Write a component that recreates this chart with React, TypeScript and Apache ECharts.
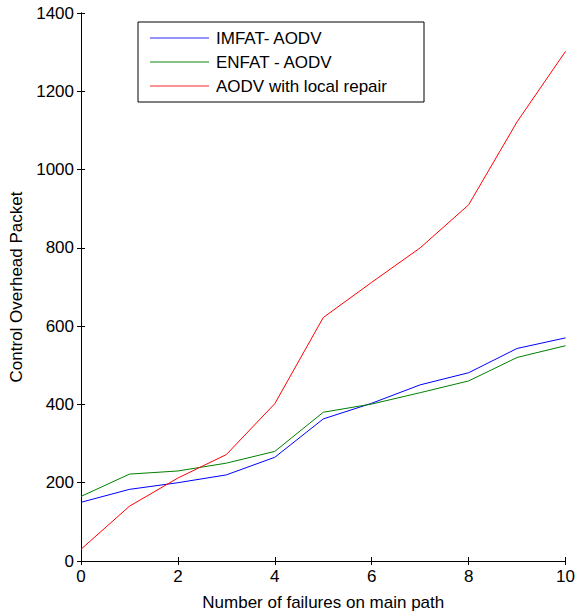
import React, { useEffect, useRef } from "react";
import * as echarts from "echarts";

const failures = [0, 1, 2, 3, 4, 5, 6, 7, 8, 9, 10];
const imfat = [150, 183, 200, 220, 265, 363, 403, 450, 481, 543, 570];
const enfat = [165, 222, 230, 250, 280, 380, 401, 430, 460, 520, 550];
const aodvLocal = [30, 140, 212, 272, 402, 622, 712, 800, 910, 1122, 1302];

const seriesNames = ["IMFAT- AODV", "ENFAT - AODV", "AODV with local repair"];
const seriesColors = ["#0000ff", "#008000", "#ff0000"];
const legendColors = ["#6f6fff", "#5fae5f", "#ff6f6f"];

const FONT = "Liberation Sans, Arial, sans-serif";

export default function App() {
  const ref = useRef<HTMLDivElement>(null);
  useEffect(() => {
    if (!ref.current) return;
    const chart = echarts.init(ref.current, undefined, { renderer: "svg" });
    const datasets = [imfat, enfat, aodvLocal];
    const axisLine = { show: true, lineStyle: { color: "#000", width: 1 } };
    const axisTick = { show: true, inside: true, length: 4, lineStyle: { color: "#000" } };
    chart.setOption({
      animation: false,
      backgroundColor: "#fff",
      textStyle: { fontFamily: FONT },
      grid: { left: 81, top: 13, right: 11, bottom: 51, containLabel: false },
      legend: {
        orient: "vertical",
        left: 138,
        top: 22,
        data: seriesNames.map((n, i) => ({
          name: n,
          icon: "rect",
          itemStyle: { color: legendColors[i] },
        })),
        itemWidth: 59,
        itemHeight: 1.5,
        itemGap: 6,
        padding: [7, 37, 7, 12],
        borderColor: "#000",
        borderWidth: 1,
        backgroundColor: "#fff",
        textStyle: { fontSize: 17, color: "#000", fontFamily: FONT, lineHeight: 18, padding: [0, 0, 0, 2] },
      },
      xAxis: [
        {
          type: "value",
          min: 0,
          max: 10,
          interval: 2,
          position: "bottom",
          name: "Number of failures on main path",
          nameLocation: "middle",
          nameGap: 33,
          nameTextStyle: { fontSize: 17, color: "#000", fontFamily: FONT },
          axisLine,
          axisTick,
          axisLabel: { fontSize: 17, color: "#000", margin: 7, fontFamily: FONT },
          splitLine: { show: false },
        },
        {
          type: "value",
          min: 0,
          max: 10,
          interval: 2,
          position: "top",
          axisLine,
          axisTick,
          axisLabel: { show: false },
          splitLine: { show: false },
        },
      ],
      yAxis: [
        {
          type: "value",
          min: 0,
          max: 1400,
          interval: 200,
          position: "left",
          name: "Control Overhead Packet",
          nameLocation: "middle",
          nameGap: 56,
          nameTextStyle: { fontSize: 17, color: "#000", fontFamily: FONT },
          axisLine,
          axisTick,
          axisLabel: {
            fontSize: 17,
            color: "#000",
            margin: 7,
            fontFamily: FONT,
            formatter: (v: number) => String(v),
          },
          splitLine: { show: false },
        },
        {
          type: "value",
          min: 0,
          max: 1400,
          interval: 200,
          position: "right",
          axisLine,
          axisTick,
          axisLabel: { show: false },
          splitLine: { show: false },
        },
      ],
      series: datasets.map((d, i) => ({
        name: seriesNames[i],
        type: "line",
        xAxisIndex: 0,
        yAxisIndex: 0,
        symbol: "none",
        data: failures.map((x, j) => [x, d[j]]),
        lineStyle: { color: seriesColors[i], width: 1 },
        itemStyle: { color: seriesColors[i] },
      })),
    });
    return () => chart.dispose();
  }, []);
  return <div ref={ref} style={{ width: 578, height: 616, position: "absolute", left: 0, top: 0 }} />;
}
